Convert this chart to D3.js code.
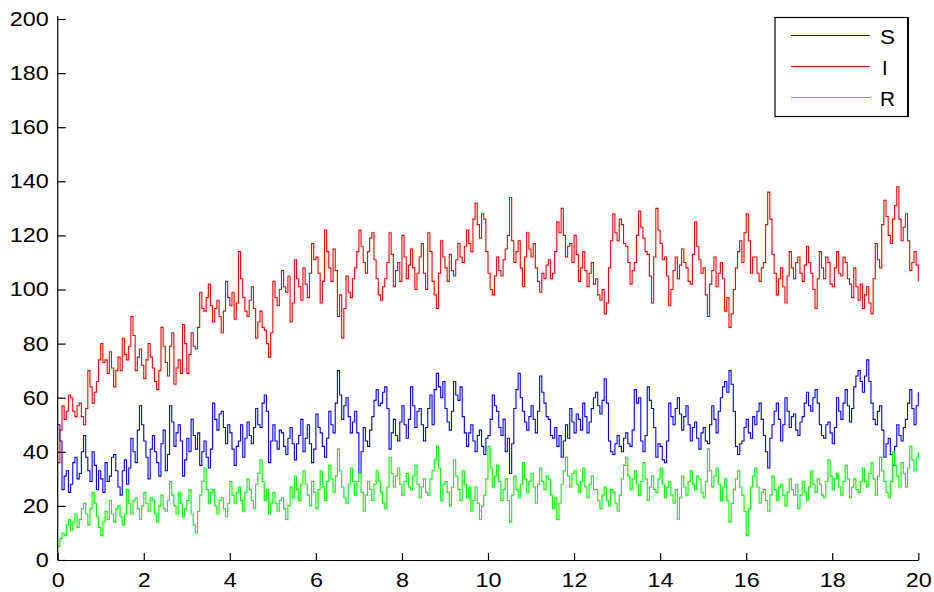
<!DOCTYPE html>
<html>
<head>
<meta charset="utf-8">
<script src="https://cdn.jsdelivr.net/npm/d3@7"></script>
<style>
  html, body { margin: 0; padding: 0; background: #fff; }
  svg { display: block; }
  text { font-family: "Liberation Sans", Arial, sans-serif; fill: #000; }
</style>
</head>
<body>
<svg id="chart" width="934" height="592"></svg>
<script>
// Stochastic SIR simulation: compartment sizes sampled every 0.05 time units
const timeStep = 0.05;

const S = [
  50,44,26,31,33,25,28,36,38,30,32,40,46,38,33,29,40,35,26,33,
  30,25,36,29,31,38,39,33,27,24,33,37,28,34,45,40,36,48,57,50,
  44,38,30,41,46,40,36,31,43,48,33,39,57,51,42,47,50,44,31,37,
  45,40,52,46,41,47,35,40,44,38,34,41,58,52,48,54,55,49,43,50,
  47,41,35,42,44,50,38,45,51,46,43,49,56,50,49,58,61,55,36,44,
  50,44,41,48,47,42,39,45,49,43,37,43,46,52,40,45,50,43,36,41,
  54,49,47,42,38,45,55,50,47,58,70,61,52,57,60,53,47,51,55,47,
  32,40,49,44,42,48,53,59,63,57,58,62,64,56,41,47,52,46,44,51,
  57,50,45,52,64,57,49,55,56,50,44,49,56,61,50,63,69,64,60,66,
  56,51,48,55,66,61,59,64,53,47,42,47,50,44,40,46,48,42,39,45,
  46,52,61,57,55,49,46,52,40,45,32,43,56,63,69,60,55,51,48,53,
  57,52,47,55,68,62,58,53,52,46,45,49,42,46,38,44,50,45,56,51,
  47,54,52,48,58,53,47,51,56,60,62,57,54,59,67,58,44,40,39,43,
  46,42,40,45,47,43,42,48,63,58,60,44,40,46,64,59,56,49,38,43,
  42,37,36,44,58,53,50,56,60,54,48,53,57,50,44,49,51,45,41,47,
  49,44,43,50,57,52,47,55,60,64,66,62,70,65,55,42,39,43,44,49,
  52,47,45,53,50,55,58,52,46,40,34,45,50,55,58,52,44,50,60,55,
  49,53,54,48,46,51,53,58,62,57,55,60,63,58,50,46,45,50,51,47,
  43,49,60,55,52,58,63,57,51,56,64,68,70,66,62,68,74,66,58,52,
  50,55,57,48,38,43,45,39,35,42,50,46,44,49,52,58,63,56,50,57,
  62
];

const I = [
  36,48,57,52,55,61,60,55,53,57,58,53,50,56,70,64,58,62,66,74,
  80,73,74,69,77,71,64,70,75,70,82,76,74,79,90,83,70,75,78,72,
  67,74,80,75,71,66,63,70,86,79,73,68,79,84,65,71,74,69,87,80,
  69,76,84,79,78,86,99,93,92,97,102,94,88,93,96,90,84,92,103,97,
  94,99,89,95,114,104,97,92,90,96,101,93,82,88,92,86,85,80,75,84,
  103,97,94,100,107,101,99,105,88,95,111,104,101,96,108,102,97,106,117,111,
  112,106,95,103,122,114,108,103,115,107,90,98,82,93,105,99,97,104,108,114,
  122,116,110,106,114,119,121,111,104,98,96,101,104,110,121,113,101,107,110,103,
  120,112,104,109,115,108,100,106,112,117,106,100,121,114,103,98,93,106,118,112,
  108,103,113,107,105,111,117,112,110,116,122,117,114,126,132,124,119,128,126,114,
  106,100,98,105,112,107,105,111,115,120,134,118,110,114,118,108,101,112,121,115,
  112,117,108,103,99,106,104,109,111,104,106,114,125,121,130,120,112,116,117,110,
  120,113,103,108,114,107,101,106,110,102,104,98,96,100,91,95,108,118,128,121,
  118,126,124,117,116,110,102,107,110,120,129,123,119,114,113,105,95,112,130,122,
  117,111,112,105,94,100,107,112,104,109,115,110,108,103,102,113,125,116,111,106,
  108,98,90,102,107,112,101,106,110,104,92,97,86,91,100,108,114,118,110,121,
  128,118,106,112,112,106,103,108,110,124,136,126,113,106,98,104,108,101,95,105,
  114,108,104,110,112,106,103,109,116,110,106,100,93,104,114,108,104,112,110,102,
  101,108,114,106,105,112,110,104,102,97,108,101,96,102,93,98,101,95,91,104,
  117,111,108,124,133,127,120,117,126,131,138,126,118,123,128,118,107,110,114,109,
  103
];

const R = [
  5,8,10,9,13,15,11,14,17,12,15,19,21,17,13,19,25,21,16,12,
  9,14,18,15,22,17,14,19,20,16,13,17,26,21,17,22,23,19,15,20,
  25,21,18,23,22,17,14,20,24,19,18,22,29,24,20,17,25,21,16,19,
  22,26,17,13,10,18,24,29,34,26,21,25,26,20,17,22,23,19,16,21,
  29,24,21,25,27,22,18,25,30,26,22,19,28,32,37,29,22,26,17,21,
  25,21,18,22,23,19,15,20,27,23,31,26,22,28,33,28,24,20,29,25,
  19,26,33,27,22,29,35,30,25,31,41,33,27,23,21,28,34,29,24,29,
  32,25,18,24,29,26,22,28,33,29,25,21,19,27,38,32,27,31,34,28,
  24,29,32,27,26,31,35,28,23,27,30,25,24,30,33,37,42,34,22,28,
  29,25,20,27,37,31,26,22,33,28,23,27,18,22,27,21,15,20,24,30,
  42,34,27,31,35,29,22,26,30,22,14,24,31,26,23,28,36,30,25,29,
  32,27,21,28,34,29,26,31,30,24,19,23,15,21,28,33,38,31,27,32,
  33,28,25,29,34,27,23,28,31,26,26,22,19,24,27,22,20,26,25,21,
  18,24,30,35,38,31,26,30,33,28,24,29,36,30,22,27,31,26,25,30,
  34,28,23,27,29,24,21,26,15,23,31,27,24,29,33,28,26,31,30,25,
  23,29,41,33,27,31,34,28,22,27,30,22,14,21,26,30,33,27,24,18,
  9,19,27,31,34,27,21,25,26,22,18,24,31,26,22,27,28,24,20,25,
  30,26,24,28,19,24,29,25,22,27,33,28,25,30,28,24,23,29,37,31,
  26,30,32,27,24,29,35,30,23,27,30,26,25,29,34,29,27,32,36,30,
  24,31,38,33,29,25,23,29,40,35,31,27,36,32,27,34,42,37,33,38,
  40
];

const seriesNames = ["S", "I", "R"];
const seriesColors = ["#0000ff", "#ff0000", "#00ff00"];
const xTicks = [0, 2, 4, 6, 8, 10, 12, 14, 16, 18, 20];
const yTicks = [0, 20, 40, 60, 80, 100, 120, 140, 160, 180, 200];

const svg = d3.select("#chart");

const x = d3.scaleLinear().domain([0, 20]).range([57.7, 918.3]);
const y = d3.scaleLinear().domain([0, 200]).range([560, 19]);

const digitWidth = 13; // tick labels are drawn slightly wide

// series, drawn as stairs
const series = [S, I, R];
const line = d3.line()
  .x((d, i) => x(i * timeStep))
  .y(d => y(d))
  .curve(d3.curveStepAfter);

svg.append("g")
  .selectAll("path")
  .data(series)
  .join("path")
  .attr("d", d => line(d))
  .attr("fill", "none")
  .attr("stroke", (d, i) => seriesColors[i])
  .attr("stroke-width", 1.1);

// y axis, ticks pointing inward
const yAxis = svg.append("g")
  .attr("transform", `translate(${x(0)},0)`)
  .call(d3.axisLeft(y).tickValues(yTicks).tickSizeInner(-8).tickSizeOuter(0).tickPadding(9));

// x axis, ticks pointing inward
const xAxis = svg.append("g")
  .attr("transform", `translate(0,${y(0)})`)
  .call(d3.axisBottom(x).tickValues(xTicks).tickSizeInner(-7).tickSizeOuter(0).tickPadding(12.5));

[yAxis, xAxis].forEach(g => {
  g.select(".domain").attr("stroke", "#000").attr("stroke-width", 1.2);
  g.selectAll(".tick line").attr("stroke", "#000").attr("stroke-width", 1.2);
  g.selectAll(".tick text")
    .attr("font-size", 20)
    .attr("font-family", "'Liberation Sans', Arial, sans-serif")
    .attr("fill", "#000")
    .each(function() {
      const t = d3.select(this);
      t.attr("textLength", t.text().length * digitWidth).attr("lengthAdjust", "spacingAndGlyphs");
    });
});
yAxis.select(".domain").attr("d", `M0,${y(0)}V16`);

// legend
const legend = svg.append("g");
legend.append("rect")
  .attr("x", 775).attr("y", 17.5)
  .attr("width", 133).attr("height", 99)
  .attr("fill", "#fff").attr("stroke", "#000").attr("stroke-width", 1.2);
legend.append("line")
  .attr("x1", 908).attr("x2", 908).attr("y1", 17).attr("y2", 117)
  .attr("stroke", "#000").attr("stroke-width", 2);

const legendRows = [35.5, 66.5, 97.5];
seriesNames.forEach((name, i) => {
  legend.append("line")
    .attr("x1", 791).attr("x2", 870)
    .attr("y1", legendRows[i]).attr("y2", legendRows[i])
    .attr("stroke", seriesColors[i]).attr("stroke-width", 1.1);
  const txt = legend.append("text")
    .attr("x", 880)
    .attr("y", legendRows[i] + 8)
    .attr("font-size", 20)
    .text(name);
  if (name !== "I") txt.attr("textLength", 15).attr("lengthAdjust", "spacingAndGlyphs");
  else txt.attr("x", 882);
});
</script>
</body>
</html>
